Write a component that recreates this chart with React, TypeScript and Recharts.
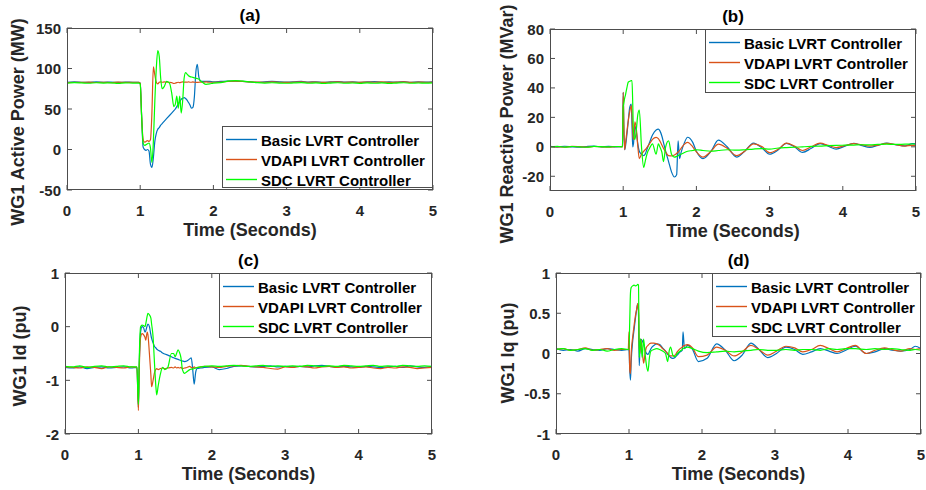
import React from 'react';
import { LineChart, Line, XAxis, YAxis } from 'recharts';

const SERIES_NAMES = ['Basic LVRT Controller', 'VDAPI LVRT Controller', 'SDC LVRT Controller'];
const SERIES_COLORS = ['#0072BD', '#D95319', '#00FF00'];
const X_TICKS = [0, 1, 2, 3, 4, 5];
const X_LABEL = 'Time (Seconds)';

// ---------- (a) WG1 Active Power (MW) ----------
const tA = [
  0, 0.1, 0.2, 0.3, 0.4, 0.5, 0.6, 0.7, 0.8, 0.9,
  0.98, 1.0, 1.02, 1.04, 1.06, 1.08, 1.1, 1.12, 1.14, 1.16,
  1.18, 1.2, 1.22, 1.24, 1.26, 1.28, 1.3, 1.33, 1.36, 1.4,
  1.43, 1.46, 1.48, 1.5, 1.52, 1.54, 1.56, 1.58, 1.6, 1.62,
  1.64, 1.66, 1.68, 1.7, 1.72, 1.74, 1.76, 1.78, 1.8, 1.82,
  1.85, 1.9, 1.95, 2.0, 2.1, 2.2, 2.3, 2.4, 2.5, 2.6,
  2.7, 2.8, 2.9, 3.0, 3.1, 3.2, 3.3, 3.4, 3.5, 3.6,
  3.7, 3.8, 3.9, 4.0, 4.1, 4.2, 4.3, 4.4, 4.5, 4.6,
  4.7, 4.8, 4.9, 5.0,
];
const aBasic = [
  83, 83.5, 83, 82.8, 83.4, 83, 83.2, 82.8, 83.3, 83,
  83, 82, 40, 3, 0, -1, 0, -2, -18, -22,
  -10, 10, 20, 25, 27, 30, 32, 35, 38, 42,
  45, 48, 50, 53, 56, 59, 62, 63, 64, 63,
  61, 58, 55, 51, 52, 65, 95, 105, 90, 85,
  84, 84, 84, 83.5, 84, 84.5, 84.5, 84, 83.5, 83,
  83.5, 84, 83.5, 83.2, 83.5, 84, 83.2, 83.6, 83, 83.4,
  83.8, 83.2, 83.5, 83, 83.4, 83.8, 83, 83.5, 83.2, 83.7,
  83, 83.4, 83.2, 83.5,
];
const aVdapi = [
  82.5, 83, 82.8, 83.2, 82.7, 83, 82.6, 83.1, 82.8, 83,
  83, 82, 40, 12, 9, 10, 11, 10, 12, 45,
  102, 92, 83, 81, 83, 83.5, 83, 83.5, 83, 83,
  82.5, 81.5, 82, 82.5, 83, 82.5, 83, 83.5, 83, 83.2,
  83, 83.5, 83, 83, 83.4, 83, 83, 82.8, 83, 83.2,
  83, 83.5, 83, 83, 83.2, 84, 84.5, 84, 83.5, 83.2,
  83, 83.4, 83, 82.8, 83.2, 83.5, 83, 83.3, 82.8, 83.2,
  83.5, 83, 83.2, 82.9, 83.3, 83, 83.4, 82.8, 83.1, 83.4,
  82.9, 83.2, 83, 83.3,
];
const aSdc = [
  82, 82.5, 82.2, 81.8, 82.4, 82, 82.3, 81.7, 82.2, 82,
  82, 81, 40, 8, 5, 6, 7, 8, 2, -16,
  10, 60, 100, 122, 115, 88, 75, 78, 84, 82,
  70, 53, 56, 66, 51, 66, 45, 60, 88, 95,
  93, 91, 90, 89.5, 89, 88.5, 88, 87.5, 87, 85,
  83, 80.5, 81, 82, 82.5, 84.5, 85, 84.5, 83.5, 82.5,
  82, 82.4, 82, 81.8, 82.2, 82.5, 81.8, 82.3, 81.6, 82,
  82.4, 81.8, 82.1, 81.7, 82.2, 81.8, 82.3, 81.6, 82, 82.4,
  81.8, 82.1, 81.9, 82.2,
];
const aTicks = [-50, 0, 50, 100, 150];

// ---------- (b) WG1 Reactive Power (MVar) ----------
const tB = [
  0, 0.1, 0.2, 0.3, 0.4, 0.5, 0.6, 0.7, 0.8, 0.9,
  0.99, 1.0, 1.01, 1.02, 1.03, 1.05, 1.07, 1.09, 1.11, 1.12,
  1.13, 1.14, 1.16, 1.18, 1.2, 1.22, 1.25, 1.28, 1.3, 1.33,
  1.36, 1.4, 1.45, 1.48, 1.5, 1.53, 1.55, 1.58, 1.62, 1.66,
  1.7, 1.73, 1.75, 1.77, 1.79, 1.83, 1.88, 1.95, 2.0, 2.09,
  2.2, 2.3, 2.42, 2.55, 2.66, 2.78, 2.9, 3.0, 3.12, 3.23,
  3.34, 3.45, 3.57, 3.69, 3.8, 3.91, 4.03, 4.15, 4.25, 4.37,
  4.48, 4.6, 4.72, 4.85, 4.95, 5.0,
];
const bBasic = [
  0.3, -0.2, 0.4, 0, -0.3, 0.2, 0.5, -0.1, 0.3, 0,
  0.2, 37, 10, -2, 0, 8, 18, 27, 29, 15,
  0, 2, 14, 10, 2, -3, -5, -6, -5, -1,
  3, 8, 11.5, 12, 11, 7, 3, -3, -10, -17,
  -20.5, -19, 4, -8, -4, 2, 6.5, 3, -3, -8,
  -3, 4.5, 0, -7, -3, 2.5, -1, -5, -2, 2.3,
  0, -3.8, -1, 2.2, 0.5, -1.6, 0.5, 2.3, 1, -0.4,
  1, 2.5, 1.5, 0.6, 2.2, 2,
];
const bVdapi = [
  0.2, 0, -0.3, 0.3, 0.1, -0.2, 0.2, 0, -0.3, 0.1,
  0, 37, 12, -2, 2, 10, 18, 24, 28, 22,
  10, 5, 17, 12, 0, -8, -5, -3, -2, 0,
  2, 5, 6.4, 5.5, 4, 1, -1, -3.5, -6, -6.2,
  -5.5, -4.5, -3.5, -2.5, -1, 1.5, 3, 0, -3.5, -7,
  -3, 1.8, -1, -6, -3, 2, 0, -4, -1.5, 2.5,
  0.5, -2.5, 0, 2.5, 1, -0.5, 0.8, 2.2, 1.5, 0.5,
  1.2, 2.3, 1.5, 0.5, 1, 0.8,
];
const bSdc = [
  0, 0.3, -0.2, 0.2, 0, -0.3, 0.3, 0.1, -0.1, 0.2,
  0, 27, 30, 33, 35, 40, 44, 44.5, 45, 45,
  30, 10, 5, 12, 22, 25, 0, -14, -10, -4,
  -1, 2, -5, 2, 0, -4, -10, 0, 4, -5,
  -7, -6.5, -6, -5.5, -5, -4, -3, -2.5, -2, -2.5,
  -3, -2.5, -2, -2.3, -2, -1.5, -1.2, -1.5, -0.8, -0.5,
  -0.3, 0, 0.3, 0.5, 0.8, 1, 1.1, 1.2, 1.4, 1.3,
  1.6, 1.8, 1.6, 1.8, 1.9, 1.8,
];
const bTicks = [-20, 0, 20, 40, 60, 80];

// ---------- (c) WG1 Id (pu) ----------
const tC = [
  0, 0.1, 0.2, 0.3, 0.4, 0.5, 0.6, 0.7, 0.8, 0.9,
  0.98, 1.0, 1.01, 1.03, 1.05, 1.07, 1.09, 1.1, 1.12, 1.13,
  1.15, 1.17, 1.18, 1.2, 1.22, 1.24, 1.25, 1.27, 1.3, 1.33,
  1.36, 1.4, 1.45, 1.48, 1.5, 1.52, 1.54, 1.56, 1.58, 1.6,
  1.63, 1.66, 1.7, 1.72, 1.74, 1.76, 1.78, 1.8, 1.85, 1.9,
  2.0, 2.1, 2.2, 2.3, 2.4, 2.5, 2.6, 2.7, 2.8, 2.9,
  3.0, 3.1, 3.2, 3.3, 3.4, 3.5, 3.6, 3.7, 3.8, 3.9,
  4.0, 4.1, 4.2, 4.3, 4.4, 4.5, 4.6, 4.7, 4.8, 4.9,
  5.0,
];
const cBasic = [
  -0.76, -0.77, -0.75, -0.78, -0.76, -0.75, -0.77, -0.76, -0.75, -0.77,
  -0.76, -1.5, -0.8, -0.1, 0.0, -0.02, -0.1, -0.08, 0.02, 0.05,
  0.0, -0.15, -0.22, -0.3, -0.37, -0.4, -0.42, -0.44, -0.46, -0.49,
  -0.51, -0.53, -0.56, -0.58, -0.59, -0.6, -0.61, -0.62, -0.63, -0.64,
  -0.65, -0.64, -0.6, -0.58, -0.8, -1.07, -0.85, -0.78, -0.77, -0.76,
  -0.75, -0.8, -0.78, -0.74, -0.73, -0.74, -0.75, -0.74, -0.73, -0.75,
  -0.74, -0.75, -0.74, -0.75, -0.73, -0.72, -0.74, -0.75, -0.74, -0.75,
  -0.76, -0.74, -0.75, -0.76, -0.75, -0.74, -0.76, -0.73, -0.75, -0.76,
  -0.74,
];
const cVdapi = [
  -0.75, -0.76, -0.77, -0.75, -0.76, -0.78, -0.75, -0.76, -0.77, -0.75,
  -0.76, -1.56, -0.9, -0.2, -0.13, -0.15, -0.2, -0.25, -0.1, -0.15,
  -0.5, -0.9, -1.12, -1.0, -0.85, -0.79, -0.78, -0.8, -0.78, -0.77,
  -0.78, -0.77, -0.76, -0.77, -0.75, -0.77, -0.76, -0.77, -0.76, -0.78,
  -0.77, -0.76, -0.74, -0.76, -0.77, -0.75, -0.77, -0.76, -0.75, -0.74,
  -0.75, -0.76, -0.74, -0.73, -0.72, -0.74, -0.75, -0.76, -0.78, -0.79,
  -0.75, -0.76, -0.74, -0.75, -0.77, -0.75, -0.74, -0.76, -0.75, -0.77,
  -0.76, -0.75, -0.77, -0.78, -0.76, -0.77, -0.75, -0.76, -0.78, -0.77,
  -0.76,
];
const cSdc = [
  -0.74, -0.75, -0.73, -0.76, -0.74, -0.73, -0.75, -0.74, -0.73, -0.75,
  -0.75, -1.45, -0.7, 0.0, 0.03, 0.02, 0.0, 0.05, 0.2, 0.25,
  0.22, 0.16, 0.05, -0.19, -0.7, -1.15, -1.27, -1.1, -0.88, -0.76,
  -0.8, -0.76, -0.5, -0.5, -0.56, -0.5, -0.43, -0.48, -0.58, -0.8,
  -0.87, -0.84, -0.8, -0.79, -0.79, -0.78, -0.77, -0.76, -0.75, -0.74,
  -0.73, -0.74, -0.73, -0.72, -0.73, -0.74, -0.73, -0.72, -0.74, -0.73,
  -0.74, -0.73, -0.74, -0.72, -0.73, -0.74, -0.73, -0.74, -0.72, -0.73,
  -0.74, -0.73, -0.72, -0.74, -0.73, -0.74, -0.72, -0.73, -0.74, -0.73,
  -0.74,
];
const cTicks = [-2, -1, 0, 1];

// ---------- (d) WG1 Iq (pu) ----------
const tD = [
  0, 0.1, 0.2, 0.3, 0.4, 0.5, 0.6, 0.7, 0.8, 0.9,
  0.99, 1.0, 1.01, 1.02, 1.03, 1.05, 1.07, 1.09, 1.11, 1.12,
  1.13, 1.14, 1.15, 1.16, 1.18, 1.2, 1.22, 1.24, 1.26, 1.28,
  1.3, 1.34, 1.38, 1.42, 1.46, 1.5, 1.53, 1.55, 1.57, 1.6,
  1.63, 1.66, 1.7, 1.73, 1.74, 1.76, 1.8, 1.87, 1.95, 2.07,
  2.2, 2.32, 2.44, 2.55, 2.67, 2.78, 2.9, 3.02, 3.15, 3.27,
  3.38, 3.5, 3.62, 3.74, 3.85, 3.97, 4.1, 4.25, 4.37, 4.5,
  4.6, 4.72, 4.85, 4.92, 5.0,
];
const dBasic = [
  0.06, 0.04, 0.05, 0.03, 0.06, 0.05, 0.04, 0.06, 0.05, 0.04,
  0.05, 0.04, -0.2, -0.33, -0.1, 0.15, 0.3, 0.45, 0.58, 0.62,
  0.5, -0.15, 0.05, 0.18, 0.16, 0.12, 0.05, 0.0, -0.01, 0.02,
  0.06, 0.1, 0.12, 0.11, 0.07, 0.03, -0.01, -0.03, -0.05, -0.06,
  -0.05, -0.02, 0.02, 0.04, 0.27, 0.06, 0.1, 0.05, -0.1, -0.06,
  0.12, 0.04, -0.09, -0.02, 0.13, 0.05, -0.05, 0.0, 0.08, 0.05,
  -0.01, 0.02, 0.06, 0.03, 0.0, 0.04, 0.09, 0.0, 0.02, 0.06,
  0.04, 0.03, 0.05, 0.09, 0.06,
];
const dVdapi = [
  0.05, 0.06, 0.04, 0.05, 0.07, 0.04, 0.05, 0.06, 0.04, 0.05,
  0.05, 0.27, -0.2, -0.25, 0.0, 0.2, 0.35, 0.48, 0.57, 0.62,
  0.55, 0.1, 0.0, 0.18, 0.05, -0.12, 0.0, 0.08, 0.1, 0.12,
  0.13, 0.13, 0.12, 0.1, 0.06, 0.03, 0.0, -0.02, -0.03, -0.03,
  -0.02, 0.02, 0.06, 0.08, 0.09, 0.1, 0.11, 0.07, -0.04, -0.02,
  0.08, 0.04, -0.03, 0.02, 0.1, 0.05, -0.02, 0.03, 0.09, 0.07,
  0.02, 0.05, 0.1, 0.06, 0.02, 0.06, 0.1, 0.0, 0.04, 0.07,
  0.05, 0.03, 0.06, 0.05, 0.06,
];
const dSdc = [
  0.05, 0.06, 0.04, 0.05, 0.06, 0.04, 0.05, 0.03, 0.05, 0.06,
  0.05, 0.05, 0.4, 0.75, 0.82, 0.84, 0.85, 0.84, 0.85, 0.86,
  0.85, -0.05, 0.1, 0.18, -0.05, 0.18, 0.0, -0.15, -0.22, -0.05,
  0.03, 0.05, 0.06, 0.05, 0.03, 0.0, -0.1, 0.03, 0.08, -0.02,
  -0.04, 0.0, 0.03, 0.05, 0.06, 0.07, 0.08, 0.06, 0.03, 0.01,
  0.02, 0.03, 0.02, 0.03, 0.04, 0.05, 0.04, 0.04, 0.05, 0.04,
  0.05, 0.05, 0.04, 0.06, 0.05, 0.06, 0.06, 0.05, 0.06, 0.05,
  0.06, 0.05, 0.04, 0.05, 0.04,
];
const dTicks = [-1, -0.5, 0, 0.5, 1];

const rows = (t: number[], s0: number[], s1: number[], s2: number[]) =>
  t.map((x, i) => ({ t: x, s0: s0[i], s1: s1[i], s2: s2[i] }));

const W = 926;
const H = 490;
const FONT = '"Liberation Sans", Arial, Helvetica, sans-serif';
const AX = '#4d4d4d';
const TXT = '#262626';

type Cfg = {
  title: string;
  ylabel: string;
  ylabelX: number;
  ylabelY: number;
  data: any[];
  domain: [number, number];
  yTicks: number[];
  left: number;
  right: number;
  top: number;
  bottom: number;
  legend: { left: number; top: number; width: number; height: number };
};

const PANELS: Cfg[] = [
  {
    title: '(a)', ylabel: 'WG1 Active Power (MW)', ylabelX: 18, ylabelY: 122,
    data: rows(tA, aBasic, aVdapi, aSdc), domain: [-50, 150], yTicks: aTicks,
    left: 67, right: 433, top: 28, bottom: 190,
    legend: { left: 222, top: 126, width: 211, height: 62 },
  },
  {
    title: '(b)', ylabel: 'WG1 Reactive Power (MVar)', ylabelX: 507, ylabelY: 124,
    data: rows(tB, bBasic, bVdapi, bSdc), domain: [-30, 80], yTicks: bTicks,
    left: 550, right: 916, top: 29, bottom: 191,
    legend: { left: 705, top: 29, width: 211, height: 64 },
  },
  {
    title: '(c)', ylabel: 'WG1 Id (pu)', ylabelX: 20, ylabelY: 356,
    data: rows(tC, cBasic, cVdapi, cSdc), domain: [-2, 1], yTicks: cTicks,
    left: 65, right: 432, top: 273, bottom: 434,
    legend: { left: 219, top: 273, width: 213, height: 65 },
  },
  {
    title: '(d)', ylabel: 'WG1 Iq (pu)', ylabelX: 508, ylabelY: 353,
    data: rows(tD, dBasic, dVdapi, dSdc), domain: [-1, 1], yTicks: dTicks,
    left: 556, right: 921, top: 273, bottom: 434,
    legend: { left: 712, top: 273, width: 209, height: 64 },
  },
];

const textStyle: React.CSSProperties = {
  position: 'absolute',
  fontFamily: FONT,
  fontWeight: 'bold',
  color: TXT,
  whiteSpace: 'nowrap',
  lineHeight: 1,
};

function ChartLayer({ cfg }: { cfg: Cfg }) {
  const { left, right, top, bottom } = cfg;
  const XTick = (p: any) => {
    const { x, payload } = p;
    return (
      <g>
        <line x1={x} x2={x} y1={bottom} y2={bottom - 5} stroke={AX} strokeWidth={1} />
        <line x1={x} x2={x} y1={top} y2={top + 5} stroke={AX} strokeWidth={1} />
        <text x={x} y={bottom + 20} textAnchor="middle" dominantBaseline="central"
          fontFamily={FONT} fontWeight="bold" fontSize={15} fill={TXT}>
          {String(payload.value)}
        </text>
      </g>
    );
  };
  const YTick = (p: any) => {
    const { y, payload } = p;
    return (
      <g>
        <line x1={left} x2={left + 5} y1={y} y2={y} stroke={AX} strokeWidth={1} />
        <line x1={right} x2={right - 5} y1={y} y2={y} stroke={AX} strokeWidth={1} />
        <text x={left - 6} y={y} textAnchor="end" dominantBaseline="central"
          fontFamily={FONT} fontWeight="bold" fontSize={15} fill={TXT}>
          {String(payload.value)}
        </text>
      </g>
    );
  };
  return (
    <div style={{ position: 'absolute', left: 0, top: 0, width: W, height: H }}>
      <LineChart
        width={W}
        height={H}
        data={cfg.data}
        margin={{ top, left: left - 40, right: W - right, bottom: H - bottom - 30 }}
      >
        <XAxis dataKey="t" type="number" domain={[0, 5]} ticks={X_TICKS} interval={0}
          allowDataOverflow height={30} tick={XTick} tickLine={false} axisLine={false}
          tickSize={0} tickMargin={0} />
        <YAxis type="number" domain={cfg.domain} ticks={cfg.yTicks} interval={0}
          allowDataOverflow width={40} tick={YTick} tickLine={false} axisLine={false}
          tickSize={0} tickMargin={0} />
        {['s0', 's1', 's2'].map((k, i) => (
          <Line key={k} dataKey={k} name={SERIES_NAMES[i]} type="monotone"
            stroke={SERIES_COLORS[i]} strokeWidth={1.2} dot={false}
            isAnimationActive={false} />
        ))}
      </LineChart>
    </div>
  );
}

function Overlay({ cfg }: { cfg: Cfg }) {
  const { left, right, top, bottom } = cfg;
  const cx = (left + right) / 2;
  return (
    <>
      <div style={{
        position: 'absolute', left, top, width: right - left, height: bottom - top,
        border: `1px solid ${AX}`, boxSizing: 'border-box', pointerEvents: 'none',
      }} />
      <div style={{ ...textStyle, fontSize: 17, color: '#000', left: cx, top: top - 13, transform: 'translate(-50%, -50%)' }}>
        {cfg.title}
      </div>
      <div style={{ ...textStyle, fontSize: 18, left: cx, top: bottom + 40, transform: 'translate(-50%, -50%)' }}>
        {X_LABEL}
      </div>
      <div style={{ ...textStyle, fontSize: 18, left: cfg.ylabelX, top: cfg.ylabelY, transform: 'translate(-50%, -50%) rotate(-90deg)' }}>
        {cfg.ylabel}
      </div>
      <div style={{
        position: 'absolute', left: cfg.legend.left, top: cfg.legend.top,
        width: cfg.legend.width, height: cfg.legend.height, background: '#fff',
        border: `1px solid ${AX}`, boxSizing: 'border-box',
      }}>
        <svg width={cfg.legend.width} height={cfg.legend.height} style={{ position: 'absolute', left: -1, top: -1 }}>
          {SERIES_NAMES.map((n, i) => (
            <line key={n} x1={4} x2={35} y1={13.5 + i * 20} y2={13.5 + i * 20}
              stroke={SERIES_COLORS[i]} strokeWidth={1.4} />
          ))}
        </svg>
        {SERIES_NAMES.map((n, i) => (
          <div key={n} style={{ ...textStyle, fontSize: 15, color: '#000', left: 38, top: 12.5 + i * 20, transform: 'translateY(-50%)' }}>{n}</div>
        ))}
      </div>
    </>
  );
}

export default function App() {
  return (
    <div style={{ position: 'absolute', left: 0, top: 0, width: W, height: H, background: '#fff', overflow: 'hidden' }}>
      {PANELS.map((p) => (
        <ChartLayer key={'c' + p.title} cfg={p} />
      ))}
      {PANELS.map((p) => (
        <Overlay key={'o' + p.title} cfg={p} />
      ))}
    </div>
  );
}
